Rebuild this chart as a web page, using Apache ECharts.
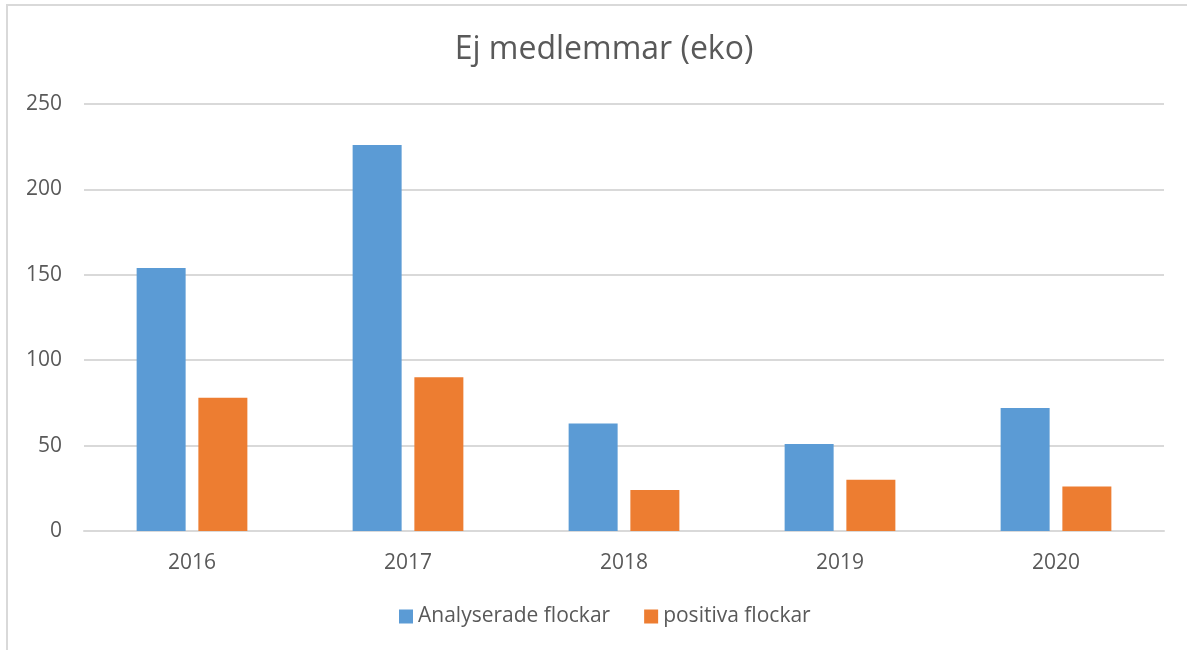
<!DOCTYPE html>
<html>
<head>
<meta charset="utf-8">
<script src="https://cdn.jsdelivr.net/npm/echarts@6/dist/echarts.min.js"></script>
<style>
  html, body { margin: 0; padding: 0; background: #fff; }
  #chart { width: 1187px; height: 650px; }
</style>
</head>
<body>
<div id="chart"></div>
<script>
  // data
  const years = ['2016', '2017', '2018', '2019', '2020']
  const analyserade = [154, 226, 63, 51, 72]
  const positiva = [78, 90, 24, 30, 26]
  const yTicks = { min: 0, max: 250, interval: 50 }

  const font = 'Open Sans'
  const textColor = '#595959'

  const chart = echarts.init(document.getElementById('chart'))
  chart.setOption({
    animation: false,
    textStyle: { fontFamily: font },
    title: {
      text: 'Ej medlemmar (eko)',
      left: 599,
      top: 29,
      textAlign: 'center',
      textStyle: { fontFamily: font, fontSize: 32, fontWeight: 'normal', color: textColor }
    },
    graphic: [{
      type: 'rect',
      shape: { x: 7, y: 5, width: 1300, height: 800 },
      style: { fill: 'none', stroke: '#d9d9d9', lineWidth: 2 },
      silent: true
    }],
    legend: {
      data: ['Analyserade flockar', 'positiva flockar'],
      left: 394,
      top: 601,
      itemWidth: 14,
      itemHeight: 14,
      itemGap: 34,
      icon: 'rect',
      textStyle: { fontFamily: font, fontSize: 21, color: textColor }
    },
    grid: { left: 84, right: 23, top: 104, bottom: 119, containLabel: false },
    xAxis: {
      type: 'category',
      data: years,
      axisTick: { show: false },
      axisLine: { lineStyle: { color: '#d9d9d9', width: 2 } },
      axisLabel: { color: textColor, fontSize: 21, margin: 22, fontFamily: font }
    },
    yAxis: {
      type: 'value',
      min: yTicks.min,
      max: yTicks.max,
      interval: yTicks.interval,
      axisLine: { show: false },
      axisTick: { show: false },
      splitLine: { lineStyle: { color: '#d9d9d9', width: 2 } },
      axisLabel: { color: textColor, fontSize: 21, margin: 22, fontFamily: font }
    },
    series: [
      {
        name: 'Analyserade flockar',
        type: 'bar',
        data: analyserade,
        barWidth: 49,
        barGap: '26%',
        itemStyle: { color: '#5B9BD5' }
      },
      {
        name: 'positiva flockar',
        type: 'bar',
        data: positiva,
        barWidth: 49,
        barGap: '26%',
        itemStyle: { color: '#ED7D31' }
      }
    ]
  })
</script>
</body>
</html>
